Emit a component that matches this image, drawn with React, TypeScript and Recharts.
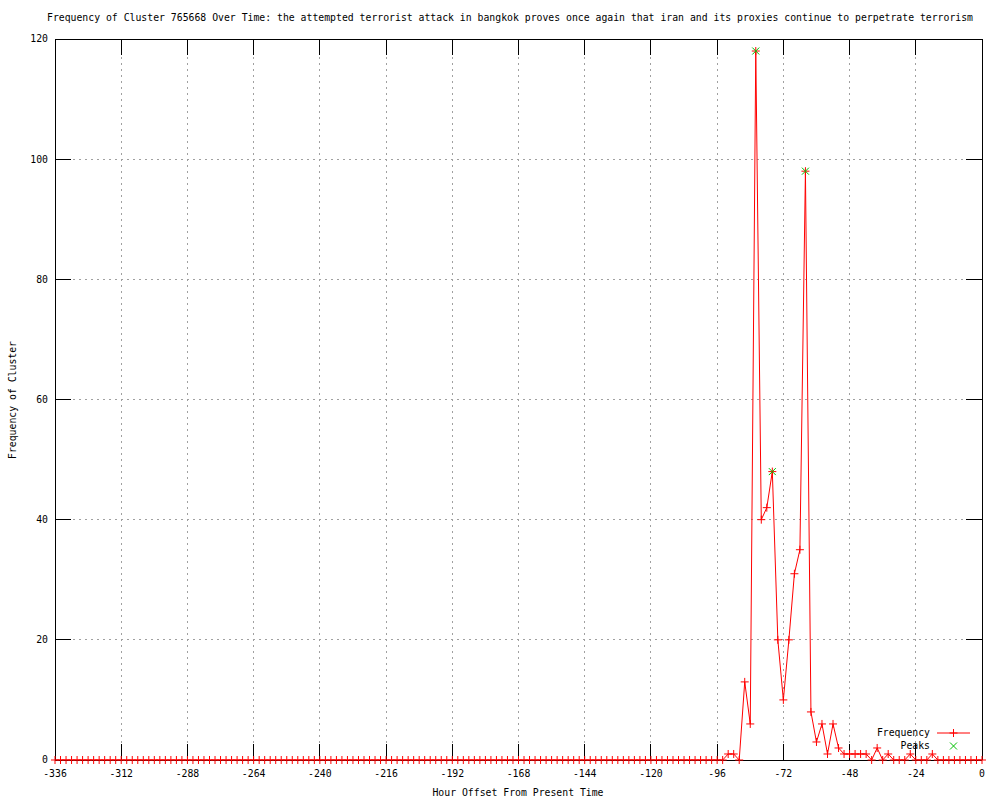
import { ComposedChart, Line, XAxis, YAxis, CartesianGrid } from 'recharts';

const HOURS = [
  -336, -334, -332, -330, -328, -326, -324, -322, -320, -318, -316, -314,
  -312, -310, -308, -306, -304, -302, -300, -298, -296, -294, -292, -290,
  -288, -286, -284, -282, -280, -278, -276, -274, -272, -270, -268, -266,
  -264, -262, -260, -258, -256, -254, -252, -250, -248, -246, -244, -242,
  -240, -238, -236, -234, -232, -230, -228, -226, -224, -222, -220, -218,
  -216, -214, -212, -210, -208, -206, -204, -202, -200, -198, -196, -194,
  -192, -190, -188, -186, -184, -182, -180, -178, -176, -174, -172, -170,
  -168, -166, -164, -162, -160, -158, -156, -154, -152, -150, -148, -146,
  -144, -142, -140, -138, -136, -134, -132, -130, -128, -126, -124, -122,
  -120, -118, -116, -114, -112, -110, -108, -106, -104, -102, -100, -98,
  -96, -94, -92, -90, -88, -86, -84, -82, -80, -78, -76, -74,
  -72, -70, -68, -66, -64, -62, -60, -58, -56, -54, -52, -50,
  -48, -46, -44, -42, -40, -38, -36, -34, -32, -30, -28, -26,
  -24, -22, -20, -18, -16, -14, -12, -10, -8, -6, -4, -2,
  0,
];

const FREQUENCY = [
  0, 0, 0, 0, 0, 0, 0, 0, 0, 0, 0, 0,
  0, 0, 0, 0, 0, 0, 0, 0, 0, 0, 0, 0,
  0, 0, 0, 0, 0, 0, 0, 0, 0, 0, 0, 0,
  0, 0, 0, 0, 0, 0, 0, 0, 0, 0, 0, 0,
  0, 0, 0, 0, 0, 0, 0, 0, 0, 0, 0, 0,
  0, 0, 0, 0, 0, 0, 0, 0, 0, 0, 0, 0,
  0, 0, 0, 0, 0, 0, 0, 0, 0, 0, 0, 0,
  0, 0, 0, 0, 0, 0, 0, 0, 0, 0, 0, 0,
  0, 0, 0, 0, 0, 0, 0, 0, 0, 0, 0, 0,
  0, 0, 0, 0, 0, 0, 0, 0, 0, 0, 0, 0,
  0, 0, 1, 1, 0, 13, 6, 118, 40, 42, 48, 20,
  10, 20, 31, 35, 98, 8, 3, 6, 1, 6, 2, 1,
  1, 1, 1, 1, 0, 2, 0, 1, 0, 0, 0, 1,
  0, 0, 0, 1, 0, 0, 0, 0, 0, 0, 0, 0,
  0,
];

const PEAK_HOURS = [-82, -76, -64];

const X_TICKS = [-336, -312, -288, -264, -240, -216, -192, -168, -144, -120, -96, -72, -48, -24, 0];
const Y_TICKS = [0, 20, 40, 60, 80, 100, 120];

const data = HOURS.map((hour, i) => ({
  hour,
  frequency: FREQUENCY[i],
  peak: PEAK_HOURS.includes(hour) ? FREQUENCY[i] : null,
}));

const FONT = '"DejaVu Sans Mono", monospace';
const FONT_SIZE = 9.8;
const RED = '#ff0000';
const GREEN = '#00c000';
const TICK = -16; // negative size: ticks point into the plot, like gnuplot

const tickFont = { fontFamily: FONT, fontSize: FONT_SIZE, fill: '#000' };
const blackLine = { stroke: '#000', strokeWidth: 1, shapeRendering: 'crispEdges' };

// mirrored axes only need their tick lines, no labels
const NoLabel = () => <g />;

const plusDot = (props: any) => {
  const { cx, cy, index } = props;
  if (cx == null || cy == null) return <g key={index} />;
  return (
    <path key={index} d={`M${cx - 4},${cy}H${cx + 4}M${cx},${cy - 4}V${cy + 4}`} stroke={RED} strokeWidth={1} fill="none" />
  );
};

const crossDot = (props: any) => {
  const { cx, cy, index, value } = props;
  if (cx == null || cy == null || value == null) return <g key={index} />;
  return (
    <path
      key={index}
      d={`M${cx - 3.5},${cy - 3.5}L${cx + 3.5},${cy + 3.5}M${cx - 3.5},${cy + 3.5}L${cx + 3.5},${cy - 3.5}`}
      stroke={GREEN}
      strokeWidth={1}
      fill="none"
    />
  );
};

const textStyle: React.CSSProperties = {
  position: 'absolute',
  fontFamily: FONT,
  fontSize: FONT_SIZE,
  lineHeight: '12px',
  whiteSpace: 'nowrap',
  color: '#000',
};

export default function App() {
  return (
    <div style={{ position: 'relative', width: 1000, height: 800, background: '#fff' }}>
      <style>{'body{margin:0}'}</style>
      <ComposedChart width={1000} height={800} data={data} margin={{ top: 38, right: 17, left: 0, bottom: 0 }}>
        <CartesianGrid stroke="#a0a0a0" strokeDasharray="2 4" fill="none" shapeRendering="crispEdges" />
        <XAxis
          dataKey="hour"
          type="number"
          domain={[-336, 0]}
          ticks={X_TICKS}
          height={40}
          tickSize={TICK}
          tickMargin={26}
          tickLine={blackLine}
          axisLine={blackLine}
          tick={tickFont}
          interval={0}
        />
        <XAxis
          xAxisId="top"
          dataKey="hour"
          orientation="top"
          type="number"
          domain={[-336, 0]}
          ticks={X_TICKS}
          height={1}
          tickSize={TICK}
          tickLine={blackLine}
          axisLine={blackLine}
          tick={NoLabel}
          interval={0}
        />
        <YAxis
          domain={[0, 120]}
          ticks={Y_TICKS}
          width={55}
          tickSize={TICK}
          tickMargin={23}
          tickLine={blackLine}
          axisLine={blackLine}
          tick={tickFont}
          interval={0}
        />
        <YAxis
          yAxisId="right"
          orientation="right"
          domain={[0, 120]}
          ticks={Y_TICKS}
          width={1}
          tickSize={TICK}
          tickLine={blackLine}
          axisLine={blackLine}
          tick={NoLabel}
          interval={0}
        />
        <Line
          dataKey="frequency"
          type="linear"
          stroke={RED}
          strokeWidth={1}
          dot={plusDot}
          activeDot={false}
          isAnimationActive={false}
        />
        <Line
          dataKey="peak"
          xAxisId="top"
          yAxisId="right"
          type="linear"
          stroke="none"
          dot={crossDot}
          activeDot={false}
          connectNulls={false}
          isAnimationActive={false}
        />
      </ComposedChart>

      <div style={{ ...textStyle, left: 0, width: 1020, top: 12, textAlign: 'center' }}>
        Frequency of Cluster 765668 Over Time: the attempted terrorist attack in bangkok proves once again that iran and its proxies continue to perpetrate terrorism
      </div>
      <div
        style={{
          ...textStyle,
          left: 13 - 100,
          top: 400 - 6,
          width: 200,
          textAlign: 'center',
          transform: 'rotate(-90deg)',
        }}
      >
        Frequency of Cluster
      </div>
      <div style={{ ...textStyle, left: 318, width: 400, top: 787, textAlign: 'center' }}>
        Hour Offset From Present Time
      </div>

      <div style={{ ...textStyle, right: 70, top: 727, textAlign: 'right' }}>Frequency</div>
      <div style={{ ...textStyle, right: 70, top: 740, textAlign: 'right' }}>Peaks</div>
      <svg style={{ position: 'absolute', left: 930, top: 720, pointerEvents: 'none' }} width={50} height={35}>
        <line x1={7} y1={13} x2={40} y2={13} stroke={RED} />
        <path d="M19.5,13H27.5M23.5,9V17" stroke={RED} fill="none" />
        <path d="M20,22.5L27,29.5M20,29.5L27,22.5" stroke={GREEN} fill="none" />
      </svg>
    </div>
  );
}
